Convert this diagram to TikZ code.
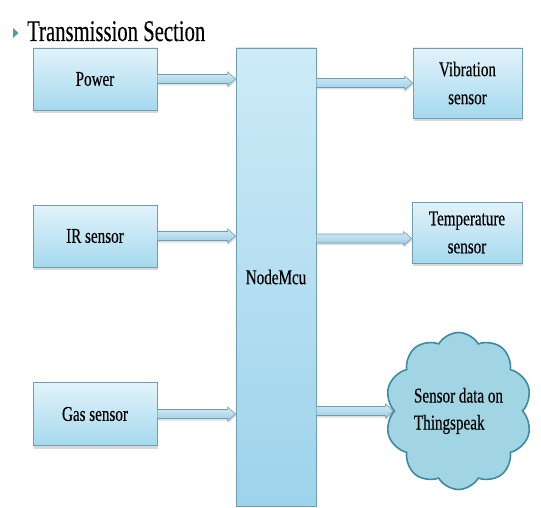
\documentclass[tikz,border=0pt]{standalone}
\usepackage{fontspec}
\setmainfont{Liberation Serif}
\newfontfamily\lblfont[FakeStretch=0.72,FakeBold=0.3]{Liberation Serif}
\newfontfamily\ttlfont[FakeStretch=0.69,FakeBold=0.3]{Liberation Serif}
\usetikzlibrary{shapes.symbols,shadows,calc}
\definecolor{boxline}{HTML}{6F9EB2}
\definecolor{boxtop}{HTML}{E2F3FA}
\definecolor{boxbot}{HTML}{A5D9EE}
\definecolor{mcutop}{HTML}{CDEBF7}
\definecolor{mcubot}{HTML}{9DD3EC}
\definecolor{cloudfill}{HTML}{A2D5E4}
\definecolor{cloudline}{HTML}{3C8BA3}
\definecolor{bullet}{HTML}{4A9AB0}
\definecolor{arrtop}{HTML}{D2ECF7}
\definecolor{arrbot}{HTML}{9CCDE2}
\tikzset{
  blockbox/.style={draw=boxline, line width=0.7pt, top color=boxtop, bottom color=boxbot,
    drop shadow={opacity=0.3, shadow xshift=1pt, shadow yshift=-3pt},
    font=\lblfont\fontsize{21}{28}\selectfont, align=center, inner sep=2pt},
  mcubox/.style={draw=boxline, line width=0.7pt, top color=mcutop, bottom color=mcubot,
    font=\lblfont\fontsize{21}{27}\selectfont},
  cloudbox/.style={cloud, cloud puffs=10, cloud puff arc=120, cloud ignores aspect,
    draw=cloudline, line width=1.6pt, fill=cloudfill, inner sep=0pt,
    font=\lblfont\fontsize{21}{27}\selectfont, align=left},
  fatarrow/.style={draw=boxline, line width=0.6pt, top color=arrtop, bottom color=arrbot,
    drop shadow={opacity=0.25, shadow xshift=0.5pt, shadow yshift=-2pt},
    to path={let \p1=(\tikztostart), \p2=(\tikztotarget) in
      (\x1,\y1+4.5pt) -- (\x2-8pt,\y1+4.5pt) -- (\x2-8pt,\y1+7pt) -- (\x2,\y1)
      -- (\x2-8pt,\y1-7pt) -- (\x2-8pt,\y1-4.5pt) -- (\x1,\y1-4.5pt) -- cycle}},
}
\begin{document}
\begin{tikzpicture}[x=1pt,y=-1pt]
\useasboundingbox (0,0) rectangle (541,508);
% title
\fill[bullet] (13,28) -- (18.5,33) -- (13,38) -- cycle;
\node[anchor=base west, inner sep=0pt, font=\ttlfont\fontsize{30}{32}\selectfont] (title) at (27,41) {Transmission Section};
% blocks
\node[mcubox, minimum width=80pt, minimum height=458pt] (mcu) at (276,277) {NodeMcu};
\node[blockbox, minimum width=124pt, minimum height=62pt] (power) at (95,79) {Power};
\node[blockbox, minimum width=124pt, minimum height=62pt] (ir) at (95,236) {IR sensor};
\node[blockbox, minimum width=124pt, minimum height=63pt] (gas) at (95,414) {Gas sensor};
\node[blockbox, minimum width=109pt, minimum height=70pt] (vib) at (467.5,83) {Vibration\\sensor};
\node[blockbox, minimum width=110pt, minimum height=61pt] (temp) at (467,232.5) {Temperature\\sensor};
\node[cloudbox, minimum width=147pt, minimum height=157pt] (cloud) at (458.5,411) {Sensor data on\\Thingspeak};
% arrows
\draw[fatarrow] (power.east) to (mcu.west |- power.east);
\draw[fatarrow] (ir.east) to (mcu.west |- ir.east);
\draw[fatarrow] (gas.east) to (mcu.west |- gas.east);
\draw[fatarrow] (mcu.east |- vib.west) to (vib.west);
\draw[fatarrow] ([yshift=-6pt]mcu.east |- temp.west) to ([yshift=-6pt]temp.west);
\draw[fatarrow] (mcu.east |- cloud.west) to (cloud.west);
\end{tikzpicture}
\end{document}
